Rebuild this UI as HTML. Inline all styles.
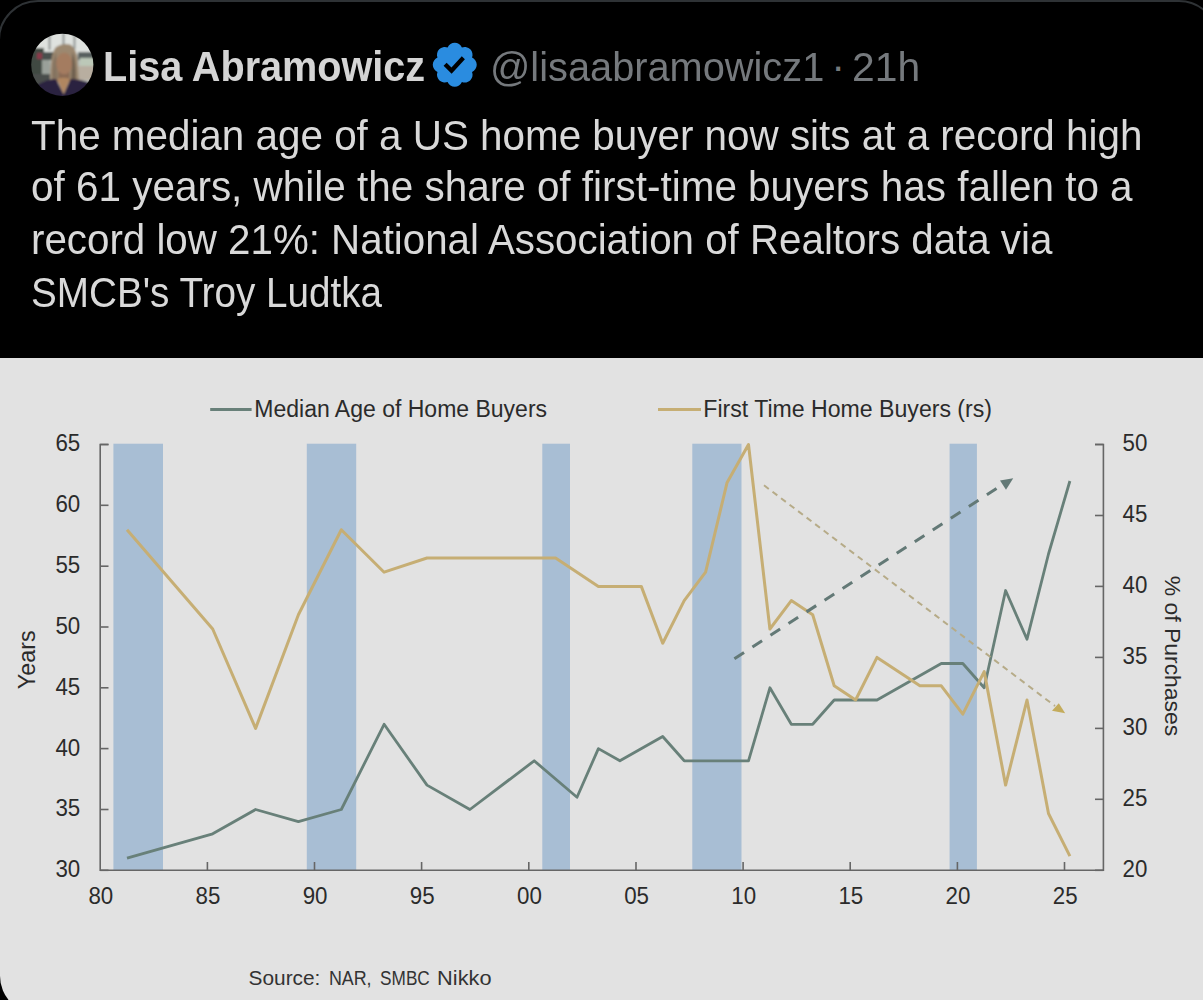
<!DOCTYPE html>
<html><head><meta charset="utf-8">
<style>
html,body{margin:0;padding:0;background:#000;font-family:"Liberation Sans",sans-serif;width:1203px;height:1000px;overflow:hidden;position:relative}
.t{position:absolute;white-space:nowrap;font-family:"Liberation Sans",sans-serif;line-height:1;transform-origin:0 0}
.t::before{content:none}
</style></head><body>
<div style="position:absolute;left:-2.2px;top:0;width:1221.5px;height:1100px;box-sizing:border-box;border:2px solid #2e3235;border-radius:40px"></div>
<svg width="70" height="70" viewBox="0 0 70 70" style="position:absolute;left:28px;top:30px">
<defs><clipPath id="cc"><circle cx="34.3" cy="34.8" r="31.1"/></clipPath>
<filter id="bl" x="-10%" y="-10%" width="120%" height="120%"><feGaussianBlur stdDeviation="1.1"/></filter></defs>
<g clip-path="url(#cc)"><g filter="url(#bl)">
<rect width="70" height="70" fill="#b9bdb8"/>
<rect x="0" y="0" width="70" height="24" fill="#dfe2df"/>
<rect x="20.5" y="3" width="2" height="17" fill="#8c9292"/>
<rect x="34.5" y="3" width="2" height="12" fill="#8c9292"/>
<rect x="45.5" y="3" width="2" height="16" fill="#8c9292"/>
<rect x="0" y="18" width="16" height="45" fill="#3f4843"/>
<rect x="13" y="22" width="12" height="8" fill="#4a504e"/>
<rect x="9" y="23" width="5" height="6" fill="#8a3848"/>
<rect x="14" y="30" width="8" height="14" fill="#9aa09a"/><rect x="0" y="44" width="22" height="26" fill="#4a4e4c"/>
<rect x="50" y="22" width="20" height="8" fill="#59605e"/>
<rect x="52" y="28" width="18" height="8" fill="#bcc8b8"/>
<rect x="50" y="36" width="20" height="14" fill="#b8aea0"/>
<path d="M22.5 52 Q21.5 26 27.5 17.5 Q34 12.5 42 14.5 Q50 19 50 36 L51 52 Z" fill="#9c8870"/>
<path d="M24 51 Q24 30 28 22 L30 51 Z" fill="#857360"/>
<path d="M48 51 Q48 30 44.5 22 L43 51 Z" fill="#6f6050"/>
<rect x="30.5" y="40" width="11" height="12" fill="#8a6a55"/>
<ellipse cx="36.2" cy="33.5" rx="8" ry="10.8" fill="#a47c60"/>
<path d="M0 70 L8 56 Q18 49 28 49 L35.7 64 L42.5 49 Q52 49 62 53 L70 60 L70 70 Z" fill="#2a2340"/>
<path d="M29 49 L35.7 64 L42 49 Q35.5 46.5 29 49 Z" fill="#b08660"/>
</g></g></svg>
<div class="t" id="name" style="left:103.3px;top:46.39px;font-size:42.5px;font-weight:700;color:#d4d4d4;transform:scaleX(0.9322084290115896)">Lisa Abramowicz</div>
<svg width="51.5" height="51.5" viewBox="0 0 22 22" style="position:absolute;left:428.75px;top:38.55px">
<path fill="#2a8ce0" d="M20.396 11c-.018-.646-.215-1.275-.57-1.816-.354-.54-.852-.972-1.438-1.246.223-.607.27-1.264.14-1.897-.131-.634-.437-1.218-.882-1.687-.47-.445-1.053-.75-1.687-.882-.633-.13-1.29-.083-1.897.14-.273-.587-.704-1.086-1.245-1.44S11.647 1.62 11 1.604c-.646.017-1.273.213-1.813.568s-.969.854-1.24 1.44c-.608-.223-1.267-.272-1.902-.14-.635.13-1.22.436-1.69.882-.445.47-.749 1.055-.878 1.688-.13.633-.08 1.29.144 1.896-.587.274-1.087.705-1.443 1.245-.356.54-.555 1.17-.574 1.817.02.647.218 1.276.574 1.817.356.54.856.972 1.443 1.245-.224.606-.274 1.263-.144 1.896.13.634.433 1.218.877 1.688.47.443 1.054.747 1.687.878.633.132 1.29.084 1.897-.136.274.586.705 1.084 1.246 1.439.54.354 1.17.551 1.816.569.647-.016 1.276-.213 1.817-.567s.972-.854 1.245-1.44c.604.239 1.266.296 1.903.164.636-.132 1.22-.447 1.68-.907.46-.46.776-1.044.908-1.681s.075-1.299-.165-1.903c.586-.274 1.084-.705 1.439-1.246.354-.54.551-1.17.569-1.816z"/>
<path fill="#000" d="M9.662 14.85l-3.429-3.428 1.293-1.302 2.072 2.072 4.4-4.794 1.347 1.246z"/>
</svg>
<div class="t" id="handle" style="left:489.8px;top:46.39px;font-size:41.5px;color:#75797d;transform:scaleX(0.958051827896105)">@lisaabramowicz1</div>
<div class="t" id="dot" style="left:831.2px;top:44.89px;font-size:41.5px;color:#75797d">·</div>
<div class="t" id="time" style="left:851.8px;top:46.39px;font-size:41.5px;color:#75797d;transform:scaleX(0.9831429618001026)">21h</div>
<div class="t" id="b0" style="left:31.2px;top:114.99px;font-size:42.3px;color:#d9d9d9;transform:scaleX(0.9549652870279899)">The median age of a US home buyer now sits at a record high</div>
<div class="t" id="b1" style="left:30.5px;top:166.19px;font-size:42.3px;color:#d9d9d9;transform:scaleX(0.9562885179771518)">of 61 years, while the share of first-time buyers has fallen to a</div>
<div class="t" id="b2" style="left:30.7px;top:218.89px;font-size:42.3px;color:#d9d9d9;transform:scaleX(0.9526937731991086)">record low 21%: National Association of Realtors data via</div>
<div class="t" id="b3" style="left:30.5px;top:272.39px;font-size:42.3px;color:#d9d9d9;transform:scaleX(0.913762660876502)">SMCB's Troy Ludtka</div>

<div style="position:absolute;left:0;top:358px;width:1219px;height:656px;background:#e2e2e2;border-radius:0 0 38px 38px"></div>
<svg width="1203" height="1000" viewBox="0 0 1203 1000" style="position:absolute;left:0;top:0">
<rect x="113.4" y="443.7" width="49.6" height="426.6" fill="#a8bed4"/><rect x="306.8" y="443.7" width="49.4" height="426.6" fill="#a8bed4"/><rect x="542.3" y="443.7" width="27.7" height="426.6" fill="#a8bed4"/><rect x="692.3" y="443.7" width="49.2" height="426.6" fill="#a8bed4"/><rect x="949.6" y="443.7" width="27.3" height="426.6" fill="#a8bed4"/>
<g stroke="#666666" stroke-width="1.6" fill="none">
<polyline points="108.5,444.5 100.2,444.5 100.2,870.3 1103.4,870.3 1103.4,444.5 1095,444.5"/>
<line x1="100.2" y1="870.3" x2="108.5" y2="870.3"/><line x1="100.2" y1="809.5" x2="108.5" y2="809.5"/><line x1="100.2" y1="748.6" x2="108.5" y2="748.6"/><line x1="100.2" y1="687.8" x2="108.5" y2="687.8"/><line x1="100.2" y1="627.0" x2="108.5" y2="627.0"/><line x1="100.2" y1="566.2" x2="108.5" y2="566.2"/><line x1="100.2" y1="505.3" x2="108.5" y2="505.3"/><line x1="100.2" y1="444.5" x2="108.5" y2="444.5"/><line x1="1095" y1="870.3" x2="1103.4" y2="870.3"/><line x1="1095" y1="799.3" x2="1103.4" y2="799.3"/><line x1="1095" y1="728.4" x2="1103.4" y2="728.4"/><line x1="1095" y1="657.4" x2="1103.4" y2="657.4"/><line x1="1095" y1="586.4" x2="1103.4" y2="586.4"/><line x1="1095" y1="515.5" x2="1103.4" y2="515.5"/><line x1="1095" y1="444.5" x2="1103.4" y2="444.5"/><line x1="207.4" y1="862" x2="207.4" y2="870.3"/><line x1="314.5" y1="862" x2="314.5" y2="870.3"/><line x1="421.6" y1="862" x2="421.6" y2="870.3"/><line x1="528.8" y1="862" x2="528.8" y2="870.3"/><line x1="636.0" y1="862" x2="636.0" y2="870.3"/><line x1="743.1" y1="862" x2="743.1" y2="870.3"/><line x1="850.2" y1="862" x2="850.2" y2="870.3"/><line x1="957.4" y1="862" x2="957.4" y2="870.3"/><line x1="1064.5" y1="862" x2="1064.5" y2="870.3"/>
</g>
<text transform="translate(80.20,877.20) scale(0.95,1)" text-anchor="end" font-family="Liberation Sans" font-size="23.5" fill="#2b2b2b">30</text><text transform="translate(80.20,816.37) scale(0.95,1)" text-anchor="end" font-family="Liberation Sans" font-size="23.5" fill="#2b2b2b">35</text><text transform="translate(80.20,755.54) scale(0.95,1)" text-anchor="end" font-family="Liberation Sans" font-size="23.5" fill="#2b2b2b">40</text><text transform="translate(80.20,694.71) scale(0.95,1)" text-anchor="end" font-family="Liberation Sans" font-size="23.5" fill="#2b2b2b">45</text><text transform="translate(80.20,633.89) scale(0.95,1)" text-anchor="end" font-family="Liberation Sans" font-size="23.5" fill="#2b2b2b">50</text><text transform="translate(80.20,573.06) scale(0.95,1)" text-anchor="end" font-family="Liberation Sans" font-size="23.5" fill="#2b2b2b">55</text><text transform="translate(80.20,512.23) scale(0.95,1)" text-anchor="end" font-family="Liberation Sans" font-size="23.5" fill="#2b2b2b">60</text><text transform="translate(80.20,451.40) scale(0.95,1)" text-anchor="end" font-family="Liberation Sans" font-size="23.5" fill="#2b2b2b">65</text><text transform="translate(1122.50,877.20) scale(0.95,1)" text-anchor="start" font-family="Liberation Sans" font-size="23.5" fill="#2b2b2b">20</text><text transform="translate(1122.50,806.23) scale(0.95,1)" text-anchor="start" font-family="Liberation Sans" font-size="23.5" fill="#2b2b2b">25</text><text transform="translate(1122.50,735.27) scale(0.95,1)" text-anchor="start" font-family="Liberation Sans" font-size="23.5" fill="#2b2b2b">30</text><text transform="translate(1122.50,664.30) scale(0.95,1)" text-anchor="start" font-family="Liberation Sans" font-size="23.5" fill="#2b2b2b">35</text><text transform="translate(1122.50,593.33) scale(0.95,1)" text-anchor="start" font-family="Liberation Sans" font-size="23.5" fill="#2b2b2b">40</text><text transform="translate(1122.50,522.37) scale(0.95,1)" text-anchor="start" font-family="Liberation Sans" font-size="23.5" fill="#2b2b2b">45</text><text transform="translate(1122.50,451.40) scale(0.95,1)" text-anchor="start" font-family="Liberation Sans" font-size="23.5" fill="#2b2b2b">50</text><text transform="translate(100.80,903.60) scale(0.95,1)" text-anchor="middle" font-family="Liberation Sans" font-size="23.5" fill="#2b2b2b">80</text><text transform="translate(207.95,903.60) scale(0.95,1)" text-anchor="middle" font-family="Liberation Sans" font-size="23.5" fill="#2b2b2b">85</text><text transform="translate(315.10,903.60) scale(0.95,1)" text-anchor="middle" font-family="Liberation Sans" font-size="23.5" fill="#2b2b2b">90</text><text transform="translate(422.25,903.60) scale(0.95,1)" text-anchor="middle" font-family="Liberation Sans" font-size="23.5" fill="#2b2b2b">95</text><text transform="translate(529.40,903.60) scale(0.95,1)" text-anchor="middle" font-family="Liberation Sans" font-size="23.5" fill="#2b2b2b">00</text><text transform="translate(636.55,903.60) scale(0.95,1)" text-anchor="middle" font-family="Liberation Sans" font-size="23.5" fill="#2b2b2b">05</text><text transform="translate(743.70,903.60) scale(0.95,1)" text-anchor="middle" font-family="Liberation Sans" font-size="23.5" fill="#2b2b2b">10</text><text transform="translate(850.85,903.60) scale(0.95,1)" text-anchor="middle" font-family="Liberation Sans" font-size="23.5" fill="#2b2b2b">15</text><text transform="translate(958.00,903.60) scale(0.95,1)" text-anchor="middle" font-family="Liberation Sans" font-size="23.5" fill="#2b2b2b">20</text><text transform="translate(1065.15,903.60) scale(0.95,1)" text-anchor="middle" font-family="Liberation Sans" font-size="23.5" fill="#2b2b2b">25</text>
<line x1="210.2" y1="409.5" x2="251.6" y2="409.5" stroke="#688079" stroke-width="3"/>
<text x="254.3" y="417.2" font-family="Liberation Sans" font-size="23" fill="#2b2b2b">Median Age of Home Buyers</text>
<line x1="658" y1="409.4" x2="701" y2="409.4" stroke="#c6ae74" stroke-width="3"/>
<text x="703.3" y="417.2" font-family="Liberation Sans" font-size="23.1" fill="#2b2b2b">First Time Home Buyers (rs)</text>
<text transform="translate(35,659.8) rotate(-90)" text-anchor="middle" font-family="Liberation Sans" font-size="23.3" fill="#2b2b2b">Years</text>
<text transform="translate(1165.3,656) rotate(90)" text-anchor="middle" font-family="Liberation Sans" font-size="22.9" fill="#2b2b2b">% of Purchases</text>
<polyline points="127.0,858.1 212.7,833.8 255.6,809.5 298.4,821.6 341.3,809.5 384.1,724.3 427.0,785.1 469.9,809.5 534.2,760.8 577.0,797.3 598.4,748.6 619.9,760.8 662.7,736.5 684.2,760.8 748.5,760.8 769.9,687.8 791.3,724.3 812.7,724.3 834.2,700.0 855.6,700.0 877.0,700.0 941.3,663.5 962.8,663.5 984.2,687.8 1005.6,590.5 1027.0,639.2 1048.5,554.0 1069.9,481.0" fill="none" stroke="#688079" stroke-width="2.8" stroke-linejoin="round"/>
<polyline points="127.0,529.7 212.7,629.0 255.6,728.4 298.4,614.8 341.3,529.7 384.1,572.2 427.0,558.0 555.6,558.0 598.4,586.4 641.3,586.4 662.7,643.2 684.2,600.6 705.6,572.2 727.0,482.8 748.5,444.5 769.9,629.0 791.3,600.6 812.7,614.8 834.2,685.8 855.6,700.0 877.0,657.4 919.9,685.8 941.3,685.8 962.8,714.2 984.2,671.6 1005.6,785.1 1027.0,700.0 1048.5,813.5 1069.9,856.1" fill="none" stroke="#c6ae74" stroke-width="3" stroke-linejoin="round"/>
<line x1="734.4" y1="658.7" x2="1000.5" y2="486" stroke="#637976" stroke-width="3" stroke-dasharray="11.5,10"/>
<polygon points="1000,480.5 1013.2,478.2 1006,489.8" fill="#637976"/>
<line x1="764" y1="485.3" x2="1055" y2="706" stroke="#b6ab88" stroke-width="2" stroke-dasharray="6,4.7"/>
<polygon points="1052,710.8 1058.8,703.2 1065.2,713.2" fill="#c4ac5c"/>
<text x="248.6" y="985" font-family="Liberation Sans" font-size="20" fill="#333" textLength="71.8" lengthAdjust="spacingAndGlyphs">Source:</text><text x="328.9" y="985" font-family="Liberation Sans" font-size="20" fill="#333" textLength="42.7" lengthAdjust="spacingAndGlyphs">NAR,</text><text x="380.1" y="985" font-family="Liberation Sans" font-size="20" fill="#333" textLength="49.7" lengthAdjust="spacingAndGlyphs">SMBC</text><text x="437.1" y="985" font-family="Liberation Sans" font-size="20" fill="#333" textLength="54.4" lengthAdjust="spacingAndGlyphs">Nikko</text>
</svg>
</body></html>
